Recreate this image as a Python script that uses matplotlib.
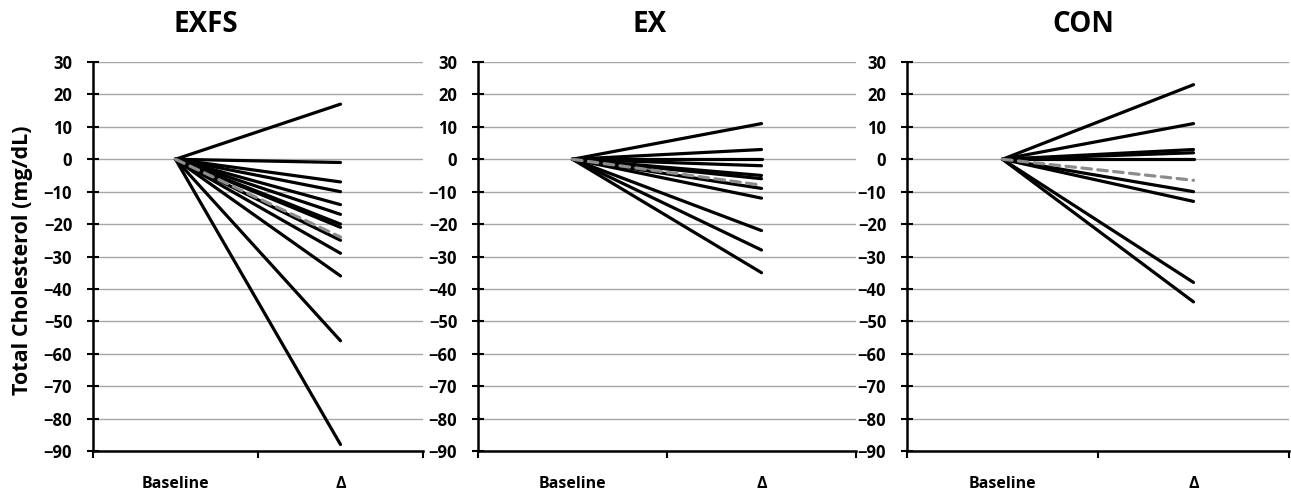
import numpy as np
import matplotlib.pyplot as plt

plt.rcParams['font.family'] = ['Open Sans', 'DejaVu Sans']
plt.rcParams['font.weight'] = 'bold'

# Dati (variazione rispetto al baseline, mg/dL)
groups = ["EXFS", "EX", "CON"]
categories = ["Baseline", "\u0394"]
exfs_delta = [17, -1, -7, -10, -14, -17, -20, -21, -25, -29, -36, -56, -88]
ex_delta = [11, 3, 0, -2, -5, -6, -9, -12, -22, -28, -35]
con_delta = [23, 11, 3, 2, 0, -10, -13, -38, -44]
mean_delta = [-24, -8, -6.5]

# Posizioni dei pannelli (in pixel del riferimento)
panels_px = [(93, 423), (478, 856), (907, 1289)]
title_x_px = [206, 650, 1083]
W, H = 1291, 493

fig = plt.figure(figsize=(W / 100, H / 100), dpi=100)

data = [exfs_delta, ex_delta, con_delta]
for i, (x0, x1) in enumerate(panels_px):
    ax = fig.add_axes([x0 / W, 1 - 451 / H, (x1 - x0) / W, (451 - 62) / H])
    for d in data[i]:
        ax.plot([0.5, 1.5], [0, d], color="black", lw=2.3, solid_capstyle="round")
    ax.plot([0.5, 1.5], [0, mean_delta[i]], color="#8c8c8c", lw=2.3,
            ls=(0, (3, 2)), dash_capstyle="round")

    ax.set_xlim(0, 2)
    ax.set_ylim(-90, 30)
    ax.set_yticks(np.arange(-90, 31, 10))
    ax.yaxis.grid(True, color="#a6a6a6", lw=1)
    ax.set_axisbelow(True)

    ax.set_xticks([0, 1, 2])
    ax.set_xticklabels([])
    ax.set_xticks([0.5, 1.5], minor=True)
    ax.set_xticklabels(categories, minor=True, fontsize=11.5, fontweight="bold")
    ax.tick_params(axis="x", which="minor", length=0, pad=18)
    ax.tick_params(axis="x", which="major", direction="out", length=5, width=1.5)
    ax.tick_params(axis="y", direction="inout", length=8, width=1.5, labelsize=12, pad=11)
    for lab in ax.get_yticklabels():
        lab.set_fontweight("bold")

    for s in ["top", "right"]:
        ax.spines[s].set_visible(False)
    for s in ["left", "bottom"]:
        ax.spines[s].set_linewidth(1.8)
        ax.spines[s].set_color("black")

    if i == 0:
        ax.set_ylabel("Total Cholesterol (mg/dL)", fontsize=15.5, fontweight="bold")
        ax.yaxis.set_label_coords((33 - x0) / (x1 - x0), (451 - 260) / (451 - 62))

    fig.text(title_x_px[i] / W, 1 - 25 / H, groups[i], ha="center", va="center",
             fontsize=20, fontweight="bold")

fig.savefig("out.png", dpi=100)
